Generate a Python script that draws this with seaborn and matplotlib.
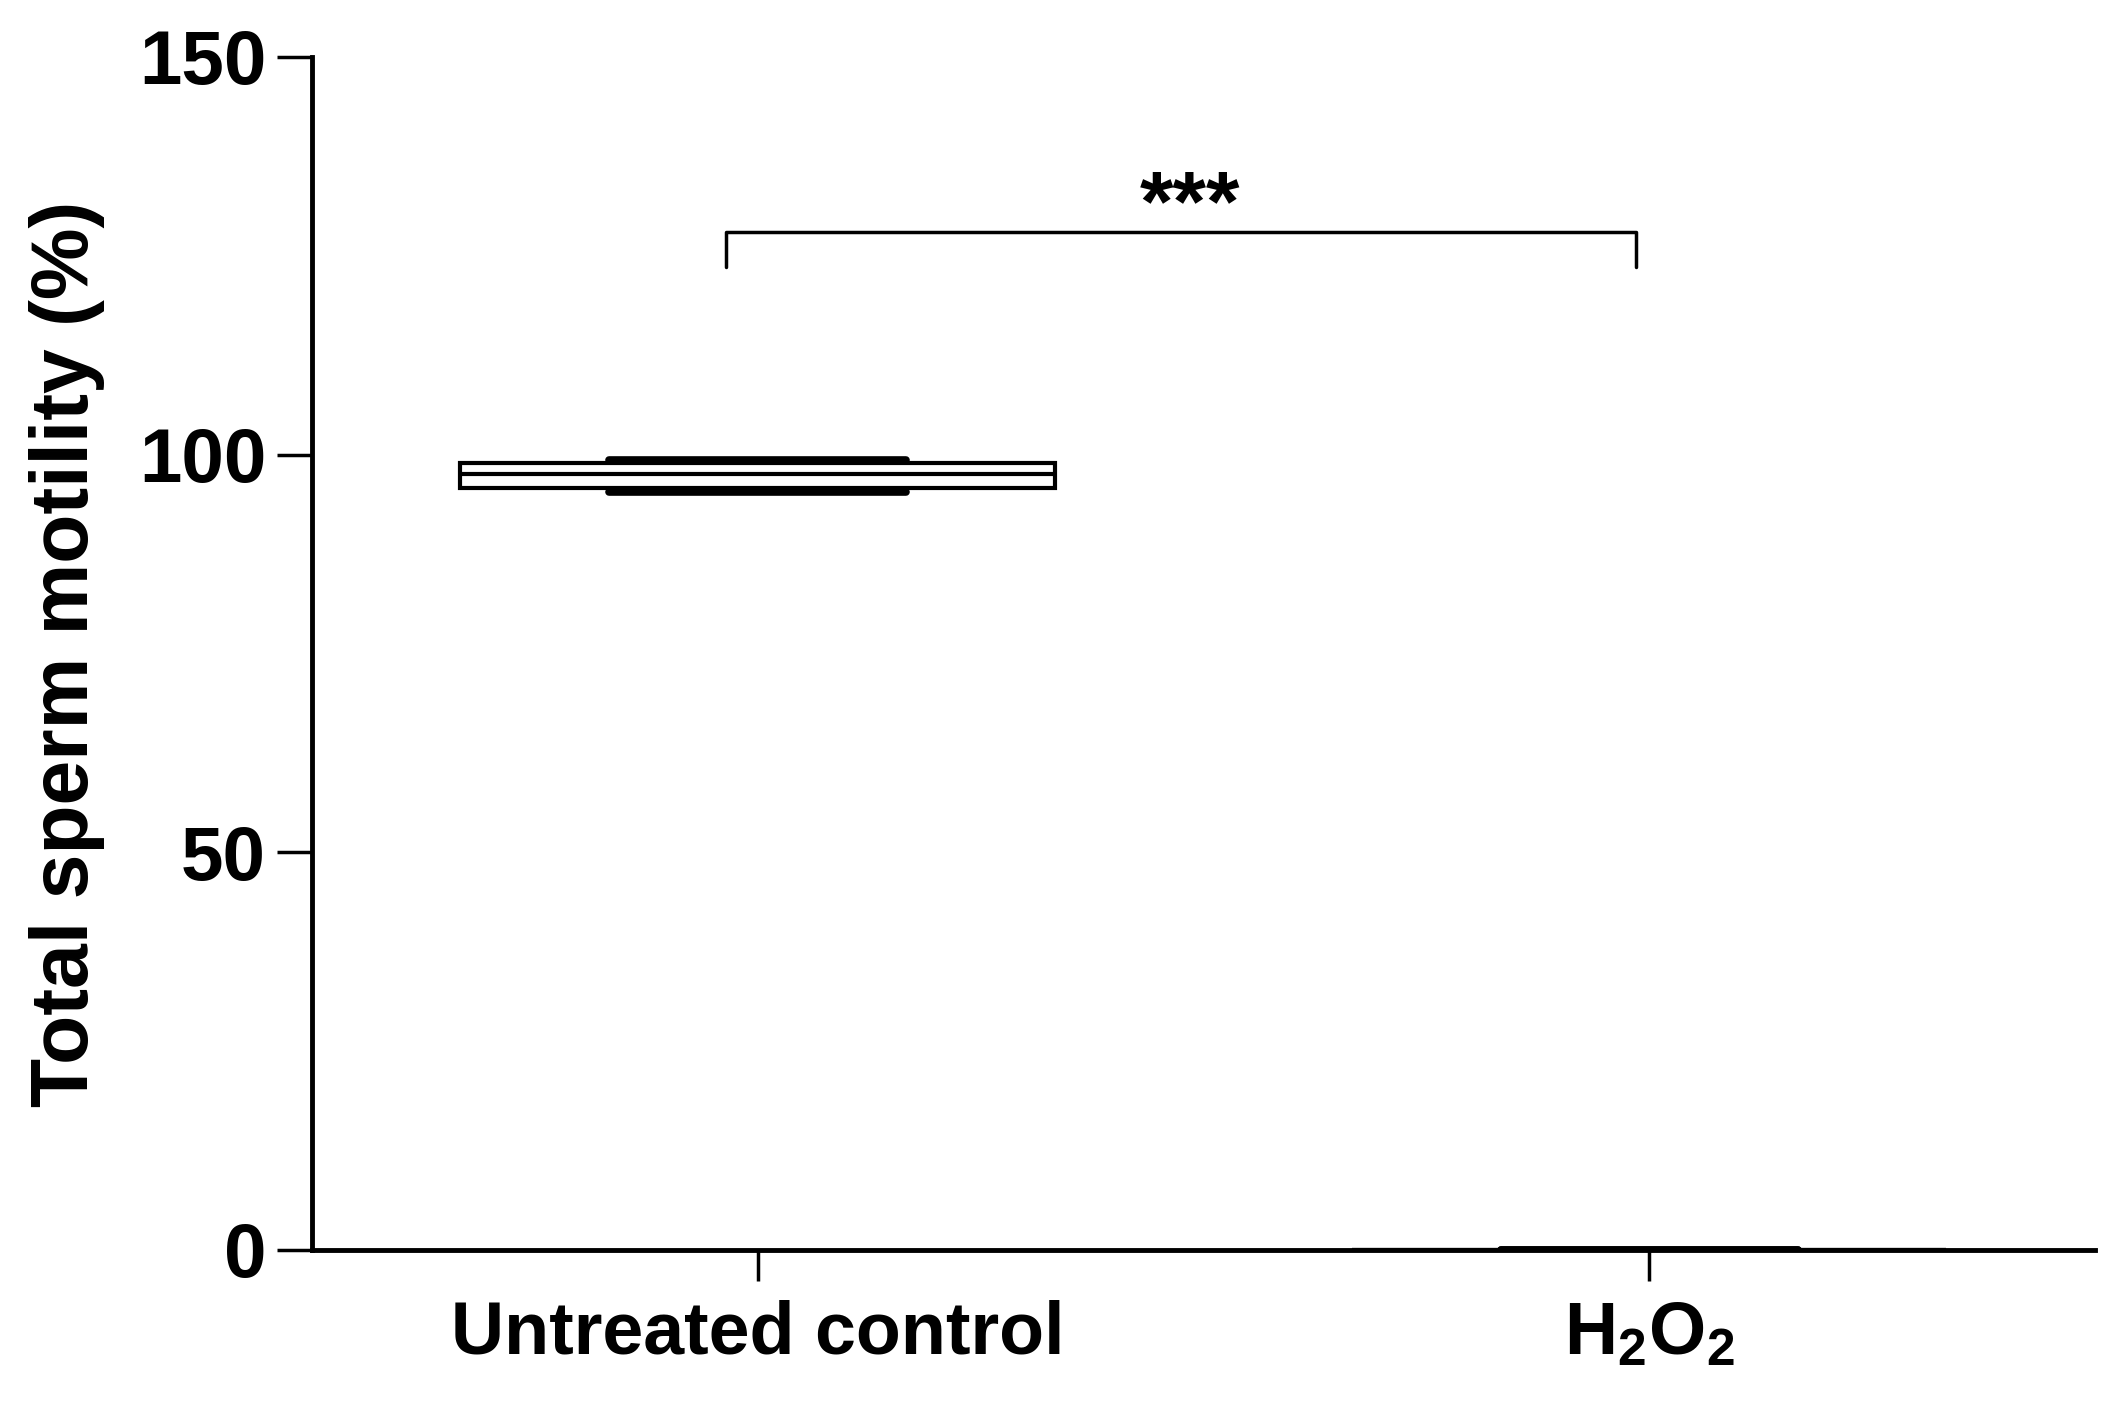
import matplotlib
matplotlib.use("Agg")
import matplotlib.pyplot as plt
import seaborn as sns
import pandas as pd
import numpy as np

# ---- data ----
groups = ["Untreated control", "H$_2$O$_2$"]
control_values = [95.3, 95.8, 97.5, 99.0, 99.3]
h2o2_values = [0.0, 0.0, 0.0, 0.0, 0.0]
y_ticks = [0, 50, 100, 150]
y_label = "Total sperm motility (%)"
sig_text = "***"
bracket_top = 128
bracket_bottom = 123.6

df = pd.DataFrame({
    "group": [groups[0]] * len(control_values) + [groups[1]] * len(h2o2_values),
    "value": control_values + h2o2_values,
})

sns.set_theme(style="ticks")
plt.rcParams["font.family"] = ["Liberation Sans", "DejaVu Sans"]
plt.rcParams["font.weight"] = "bold"
plt.rcParams["mathtext.fontset"] = "custom"
plt.rcParams["mathtext.rm"] = "Liberation Sans:bold"
plt.rcParams["mathtext.it"] = "Liberation Sans:bold"
plt.rcParams["mathtext.bf"] = "Liberation Sans:bold"

fig = plt.figure(figsize=(21.15, 14.07), dpi=100)
ax = fig.add_axes([0.1475, 0.1116, 0.843, 0.848])

sns.boxplot(
    data=df, x="group", y="value", order=groups, ax=ax,
    width=0.667, whis=(0, 100), fliersize=0,
    boxprops=dict(facecolor="white", edgecolor="black", linewidth=3),
    medianprops=dict(color="black", linewidth=3),
    whiskerprops=dict(color="black", linewidth=3),
    capprops=dict(color="black", linewidth=5.5),
    linecolor="black",
)

ax.set_ylim(0, 150)
ax.set_xlim(-0.5, 1.5)
ax.set_yticks(y_ticks)
ax.set_xlabel("")
ax.set_ylabel(y_label, fontsize=58, fontweight="bold", labelpad=24, color="black")

for s in ["top", "right"]:
    ax.spines[s].set_visible(False)
for s in ["left", "bottom"]:
    ax.spines[s].set_linewidth(3.5)
    ax.spines[s].set_color("black")
    ax.spines[s].set_zorder(5)

ax.tick_params(axis="y", length=25, width=2.5, labelsize=55, pad=8, colors="black")
ax.tick_params(axis="x", length=22, width=2.5, labelsize=53, pad=14, colors="black")
for lab in ax.get_xticklabels() + ax.get_yticklabels():
    lab.set_fontweight("bold")

# significance bracket
x0, x1 = -0.035, 0.985
ax.plot([x0, x0, x1, x1], [bracket_bottom, bracket_top, bracket_top, bracket_bottom],
        color="black", linewidth=2.5, clip_on=False)
ax.text((x0 + x1) / 2 + 0.01, 131.0, sig_text, ha="center", va="center",
        fontsize=62, fontweight="bold", color="black")

fig.savefig("out.png", dpi=100, facecolor="white")
